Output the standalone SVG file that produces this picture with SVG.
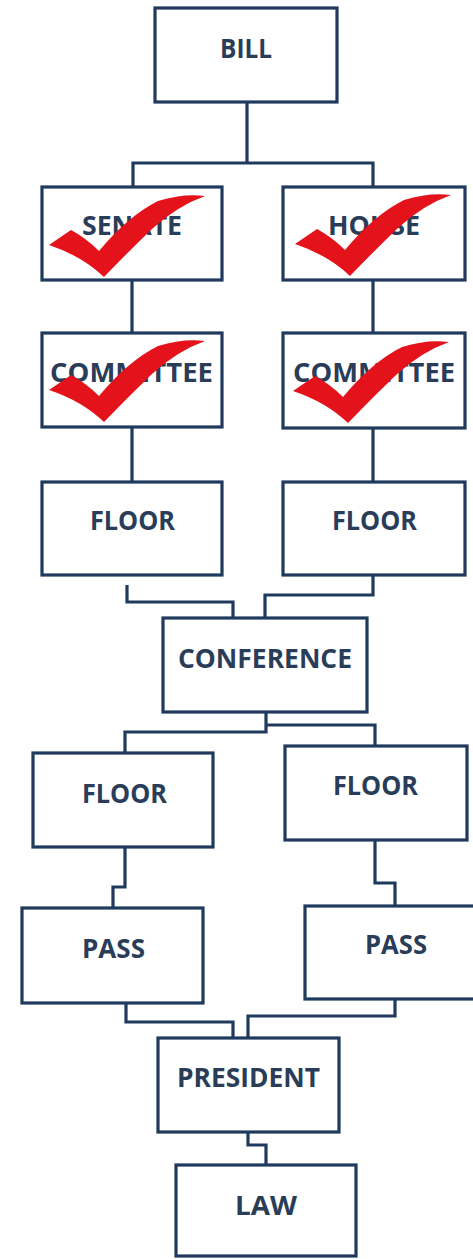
<svg xmlns="http://www.w3.org/2000/svg" width="473" height="1259" viewBox="0 0 473 1259">
<defs>
<style>
.box{fill:#ffffff;stroke:#1f3a5c;stroke-width:3.2}
.lbl{font-family:"Open Sans","Liberation Sans",sans-serif;font-weight:bold;font-size:26.5px;fill:#2a3d58;text-anchor:middle}
.con{fill:none;stroke:#1f3a5c;stroke-width:3.2}
.chk{fill:#e3121b}
</style>
<path id="check" d="M49,245 L71,230 Q86,238 99,251 Q128,216 158,201 Q184,193 205,196 Q177,206 152,229 Q127,253 104,277 Q82,256 49,245 Z"/>
</defs>
<rect width="473" height="1259" fill="#ffffff"/>
<g id="connectors">
<path class="con" d="M247,102 V163 M133,187 V163 H373 V187"/>
<path class="con" d="M132,280 V333 M373,280 V333"/>
<path class="con" d="M132,427 V482 M373,428 V482"/>
<path class="con" d="M127,585 V602 H233 V618 M373,575 V595 H265 V618"/>
<path class="con" d="M266,712 V725 H375 V746 M266,725 V732 H125 V753"/>
<path class="con" d="M125,847 V887 H113 V908 M375,840 V883 H395 V906"/>
<path class="con" d="M126,1003 V1022 H233 V1038 M395,999 V1016 H248 V1038"/>
<path class="con" d="M248,1132 V1145 H266 V1165"/>
</g>
<g id="bill"><rect class="box" x="155" y="8" width="182" height="94"/><text class="lbl" x="246" y="58" textLength="52" lengthAdjust="spacingAndGlyphs">BILL</text></g>
<g id="senate"><rect class="box" x="42" y="187" width="180" height="93"/><text class="lbl" x="132" y="235" textLength="100" lengthAdjust="spacingAndGlyphs">SENATE</text><use href="#check" class="chk"/></g>
<g id="house"><rect class="box" x="283" y="187" width="182" height="93"/><text class="lbl" x="374" y="235" textLength="92" lengthAdjust="spacingAndGlyphs">HOUSE</text><use href="#check" class="chk" transform="translate(246,-1)"/></g>
<g id="committee-senate"><rect class="box" x="42" y="333" width="180" height="94"/><text class="lbl" x="131.5" y="382" textLength="163" lengthAdjust="spacingAndGlyphs">COMMITTEE</text><use href="#check" class="chk" transform="translate(0,145)"/></g>
<g id="committee-house"><rect class="box" x="283" y="333" width="182" height="95"/><text class="lbl" x="374" y="382" textLength="162" lengthAdjust="spacingAndGlyphs">COMMITTEE</text><use href="#check" class="chk" transform="translate(244,146)"/></g>
<g id="floor-senate"><rect class="box" x="42" y="482" width="180" height="93"/><text class="lbl" x="132.5" y="530" textLength="85" lengthAdjust="spacingAndGlyphs">FLOOR</text></g>
<g id="floor-house"><rect class="box" x="283" y="482" width="182" height="93"/><text class="lbl" x="374.5" y="530" textLength="85" lengthAdjust="spacingAndGlyphs">FLOOR</text></g>
<g id="conference"><rect class="box" x="163" y="618" width="204" height="94"/><text class="lbl" x="265" y="668" textLength="174" lengthAdjust="spacingAndGlyphs">CONFERENCE</text></g>
<g id="floor-2-left"><rect class="box" x="33" y="753" width="180" height="94"/><text class="lbl" x="124.5" y="803" textLength="85" lengthAdjust="spacingAndGlyphs">FLOOR</text></g>
<g id="floor-2-right"><rect class="box" x="285" y="746" width="182" height="94"/><text class="lbl" x="375.5" y="795" textLength="85" lengthAdjust="spacingAndGlyphs">FLOOR</text></g>
<g id="pass-left"><rect class="box" x="22" y="908" width="181" height="95"/><text class="lbl" x="113.5" y="958" textLength="63" lengthAdjust="spacingAndGlyphs">PASS</text></g>
<g id="pass-right"><rect class="box" x="305" y="906" width="170" height="93"/><text class="lbl" x="396" y="954" textLength="62" lengthAdjust="spacingAndGlyphs">PASS</text></g>
<g id="president"><rect class="box" x="158" y="1038" width="181" height="94"/><text class="lbl" x="248.5" y="1087" textLength="143" lengthAdjust="spacingAndGlyphs">PRESIDENT</text></g>
<g id="law"><rect class="box" x="176" y="1165" width="180" height="91"/><text class="lbl" x="266" y="1215" textLength="62" lengthAdjust="spacingAndGlyphs">LAW</text></g>
</svg>
